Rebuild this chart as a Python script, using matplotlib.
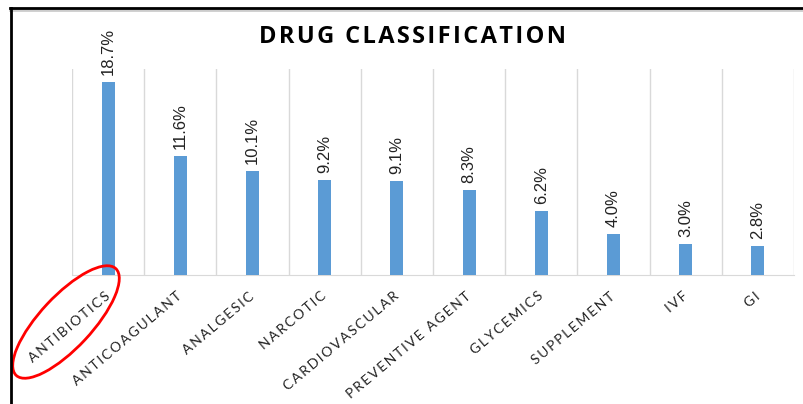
import matplotlib.pyplot as plt
from matplotlib.patches import Ellipse
from matplotlib.lines import Line2D

# data
categories = ["ANTIBIOTICS", "ANTICOAGULANT", "ANALGESIC", "NARCOTIC", "CARDIOVASCULAR",
              "PREVENTIVE AGENT", "GLYCEMICS", "SUPPLEMENT", "IVF", "GI"]
values = [18.7, 11.6, 10.1, 9.2, 9.1, 8.3, 6.2, 4.0, 3.0, 2.8]
title = "DRUG CLASSIFICATION"


def spaced(s, sep="\u200a"):
    # letter spacing like in excel
    return sep.join(s)


fig = plt.figure(figsize=(8.04, 4.04), dpi=100)
ax = fig.add_axes([72/804, 1 - 275/404, (794 - 72)/804, (275 - 69)/404])

x = range(len(categories))
ax.bar(x, values, width=0.18, color="#5B9BD5", zorder=3)
ax.set_xlim(-0.5, len(categories) - 0.5)
ax.set_ylim(0, 20)

for i, v in enumerate(values):
    ax.annotate("{:.1f}%".format(v), (i, v), xytext=(0, 5), textcoords="offset points",
                rotation=90, ha="center", va="bottom", fontsize=12,
                family=["Liberation Sans Narrow", "DejaVu Sans Condensed", "Liberation Sans"],
                color="#222222")

# vertical gridlines between categories
for b in range(len(categories) + 1):
    ax.axvline(b - 0.5, color="#D9D9D9", lw=1, zorder=1)

ax.set_yticks([])
ax.set_xticks(list(x))
ax.set_xticklabels([spaced(c, "\u2009") for c in categories], rotation=40, ha="right",
                   va="center", rotation_mode="anchor", fontsize=10, color="#222222",
                   family=["Lato", "DejaVu Sans"])
ax.tick_params(axis="x", length=0, pad=14)
for s in ["left", "right", "top"]:
    ax.spines[s].set_visible(False)
ax.spines["bottom"].set_color("#D9D9D9")

fig.text(413/804, 1 - 37/404, spaced(title), ha="center", va="center",
         fontsize=17, fontweight="bold", family=["Open Sans", "DejaVu Sans"])

# outer frame (top and left only visible)
fig.add_artist(Line2D([10/804, 1], [1 - 10/404, 1 - 10/404], color="#CCCCCC", lw=2,
                      transform=fig.transFigure))
fig.add_artist(Line2D([10/804, 1], [1 - 8/404, 1 - 8/404], color="black", lw=2,
                      transform=fig.transFigure))
fig.add_artist(Line2D([11/804, 11/804], [0, 1 - 8/404], color="black", lw=2,
                      transform=fig.transFigure))

# red circle around antibiotics
fig.add_artist(Ellipse((0.66, (404 - 322)/100), 1.46, 0.52, angle=47, fill=False,
                       edgecolor="red", lw=2, transform=fig.dpi_scale_trans))

fig.savefig("out.png", dpi=100)
